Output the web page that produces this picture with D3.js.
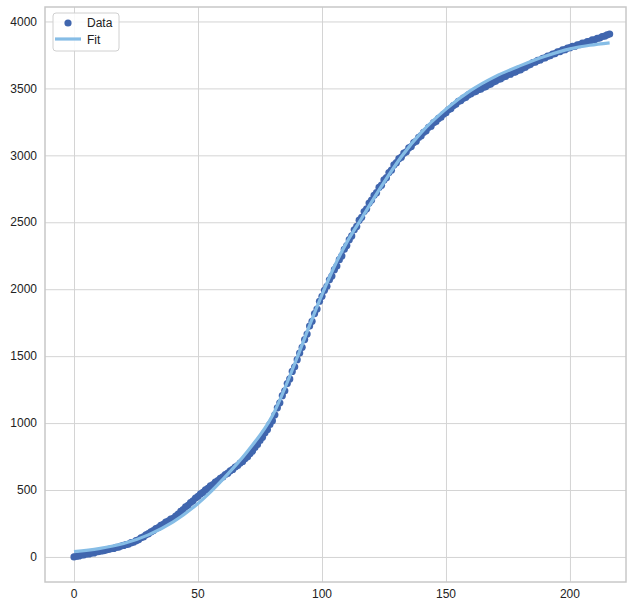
<html>
<head>
  <script src="https://cdn.jsdelivr.net/npm/d3@7"></script>
</head>
<style>
  body { margin: 0; background: #fff; }
  text { font-family: "Liberation Sans", Arial, sans-serif; }
</style>
<body>
  <svg id="chart"></svg>
  <script type="text/javascript">
    // observed data, one value per day 0..216
    var dataY = [
      0, 6, 8, 15, 16, 22, 23, 29, 30, 37, 40,
      45, 47, 53, 57, 63, 64, 72, 74, 81, 86,
      93, 96, 107, 110, 122, 128, 143, 150, 166, 174,
      187, 197, 212, 220, 236, 244, 260, 268, 282, 289,
      306, 320, 340, 353, 374, 386, 407, 419, 440, 453,
      471, 482, 501, 512, 531, 541, 559, 570, 588, 598,
      616, 626, 644, 654, 672, 683, 702, 714, 735, 748,
      772, 791, 819, 840, 870, 894, 927, 953, 990, 1018,
      1062, 1114, 1151, 1205, 1241, 1295, 1330, 1386, 1420, 1474,
      1523, 1566, 1624, 1665, 1725, 1760, 1818, 1852, 1910, 1947,
      1992, 2022, 2070, 2098, 2146, 2173, 2221, 2249, 2298, 2326,
      2370, 2398, 2444, 2469, 2516, 2537, 2580, 2601, 2644, 2666,
      2702, 2721, 2760, 2777, 2816, 2833, 2871, 2889, 2928, 2945,
      2975, 2986, 3016, 3026, 3055, 3066, 3095, 3106, 3134, 3147,
      3172, 3183, 3209, 3218, 3244, 3252, 3276, 3285, 3307, 3318,
      3340, 3349, 3372, 3381, 3403, 3409, 3427, 3433, 3451, 3458,
      3472, 3476, 3490, 3494, 3508, 3512, 3528, 3532, 3548, 3553,
      3567, 3571, 3585, 3589, 3603, 3606, 3619, 3622, 3635, 3638,
      3653, 3658, 3673, 3678, 3693, 3696, 3709, 3712, 3725, 3728,
      3741, 3744, 3757, 3760, 3773, 3775, 3787, 3789, 3801, 3804,
      3814, 3815, 3826, 3827, 3838, 3839, 3850, 3851, 3862, 3863,
      3874, 3876, 3887, 3890, 3900, 3906
    ];
    var dataX = dataY.map(function(d, i) { return i; });

    // fitted curve, read at a few x positions
    var fitX = [0, 10, 20, 30, 40, 50, 55, 60, 70, 80, 90, 95, 100, 105, 110, 116, 124, 132, 140, 150, 160, 170, 180, 190, 200, 208, 216];
    var fitY = [40, 62, 100, 165, 262, 400, 485, 580, 790, 1055, 1490, 1730, 1960, 2170, 2350, 2530, 2770, 2990, 3170, 3345, 3485, 3590, 3670, 3740, 3795, 3822, 3840];

    var xTicks = [0, 50, 100, 150, 200];
    var yTicks = [0, 500, 1000, 1500, 2000, 2500, 3000, 3500, 4000];

    var width = 627, height = 600;
    var margin = { left: 45, right: 626, top: 7, bottom: 582 };

    var svg = d3.select('#chart')
      .attr('width', width)
      .attr('height', height);

    var x = d3.scaleLinear()
      .domain([-11.7, 222.6])
      .range([margin.left, margin.right]);
    var y = d3.scaleLinear()
      .domain([-187, 4108])
      .range([margin.bottom, margin.top]);

    // grid
    svg.append('g')
      .attr('transform', 'translate(0,' + margin.bottom + ')')
      .call(d3.axisBottom(x).tickValues(xTicks).tickSize(-(margin.bottom - margin.top)).tickFormat(''))
      .call(function(g) { g.select('.domain').remove(); })
      .selectAll('line')
      .attr('stroke', '#d4d4d4')
      .attr('stroke-width', 1);
    svg.append('g')
      .attr('transform', 'translate(' + margin.left + ',0)')
      .call(d3.axisLeft(y).tickValues(yTicks).tickSize(-(margin.right - margin.left)).tickFormat(''))
      .call(function(g) { g.select('.domain').remove(); })
      .selectAll('line')
      .attr('stroke', '#d4d4d4')
      .attr('stroke-width', 1);

    // frame
    svg.append('rect')
      .attr('x', margin.left)
      .attr('y', margin.top)
      .attr('width', margin.right - margin.left)
      .attr('height', margin.bottom - margin.top)
      .attr('fill', 'none')
      .attr('stroke', '#c8c8c8')
      .attr('stroke-width', 1.5);

    // tick labels
    svg.selectAll('.xlab')
      .data(xTicks)
      .enter()
      .append('text')
      .attr('class', 'xlab')
      .attr('x', function(d) { return x(d); })
      .attr('y', 598)
      .attr('text-anchor', 'middle')
      .attr('font-size', 12)
      .attr('fill', '#222')
      .text(function(d) { return d; });
    svg.selectAll('.ylab')
      .data(yTicks)
      .enter()
      .append('text')
      .attr('class', 'ylab')
      .attr('x', 37)
      .attr('y', function(d) { return y(d); })
      .attr('dy', '0.35em')
      .attr('text-anchor', 'end')
      .attr('font-size', 12)
      .attr('fill', '#222')
      .text(function(d) { return d; });

    // data points
    svg.append('g')
      .selectAll('circle')
      .data(dataY)
      .enter()
      .append('circle')
      .attr('cx', function(d, i) { return x(dataX[i]); })
      .attr('cy', function(d) { return y(d); })
      .attr('r', 3.6)
      .attr('fill', '#4066ae');

    // fit line
    var line = d3.line()
      .x(function(d, i) { return x(fitX[i]); })
      .y(function(d) { return y(d); })
      .curve(d3.curveMonotoneX);
    svg.append('path')
      .attr('d', line(fitY))
      .attr('fill', 'none')
      .attr('stroke', '#86bde6')
      .attr('stroke-width', 3.2);

    // legend
    var lg = svg.append('g');
    lg.append('rect')
      .attr('x', 53)
      .attr('y', 13)
      .attr('width', 66)
      .attr('height', 38)
      .attr('rx', 3)
      .attr('fill', '#fff')
      .attr('fill-opacity', 0.85)
      .attr('stroke', '#d0d0d0');
    lg.append('circle')
      .attr('cx', 68)
      .attr('cy', 23)
      .attr('r', 3.6)
      .attr('fill', '#4066ae');
    lg.append('text')
      .attr('x', 87)
      .attr('y', 23)
      .attr('dy', '0.35em')
      .attr('font-size', 12)
      .attr('fill', '#222')
      .text('Data');
    lg.append('line')
      .attr('x1', 55)
      .attr('x2', 81)
      .attr('y1', 39)
      .attr('y2', 39)
      .attr('stroke', '#86bde6')
      .attr('stroke-width', 3.2);
    lg.append('text')
      .attr('x', 87)
      .attr('y', 40)
      .attr('dy', '0.35em')
      .attr('font-size', 12)
      .attr('fill', '#222')
      .text('Fit');
  </script>
</body>
</html>
